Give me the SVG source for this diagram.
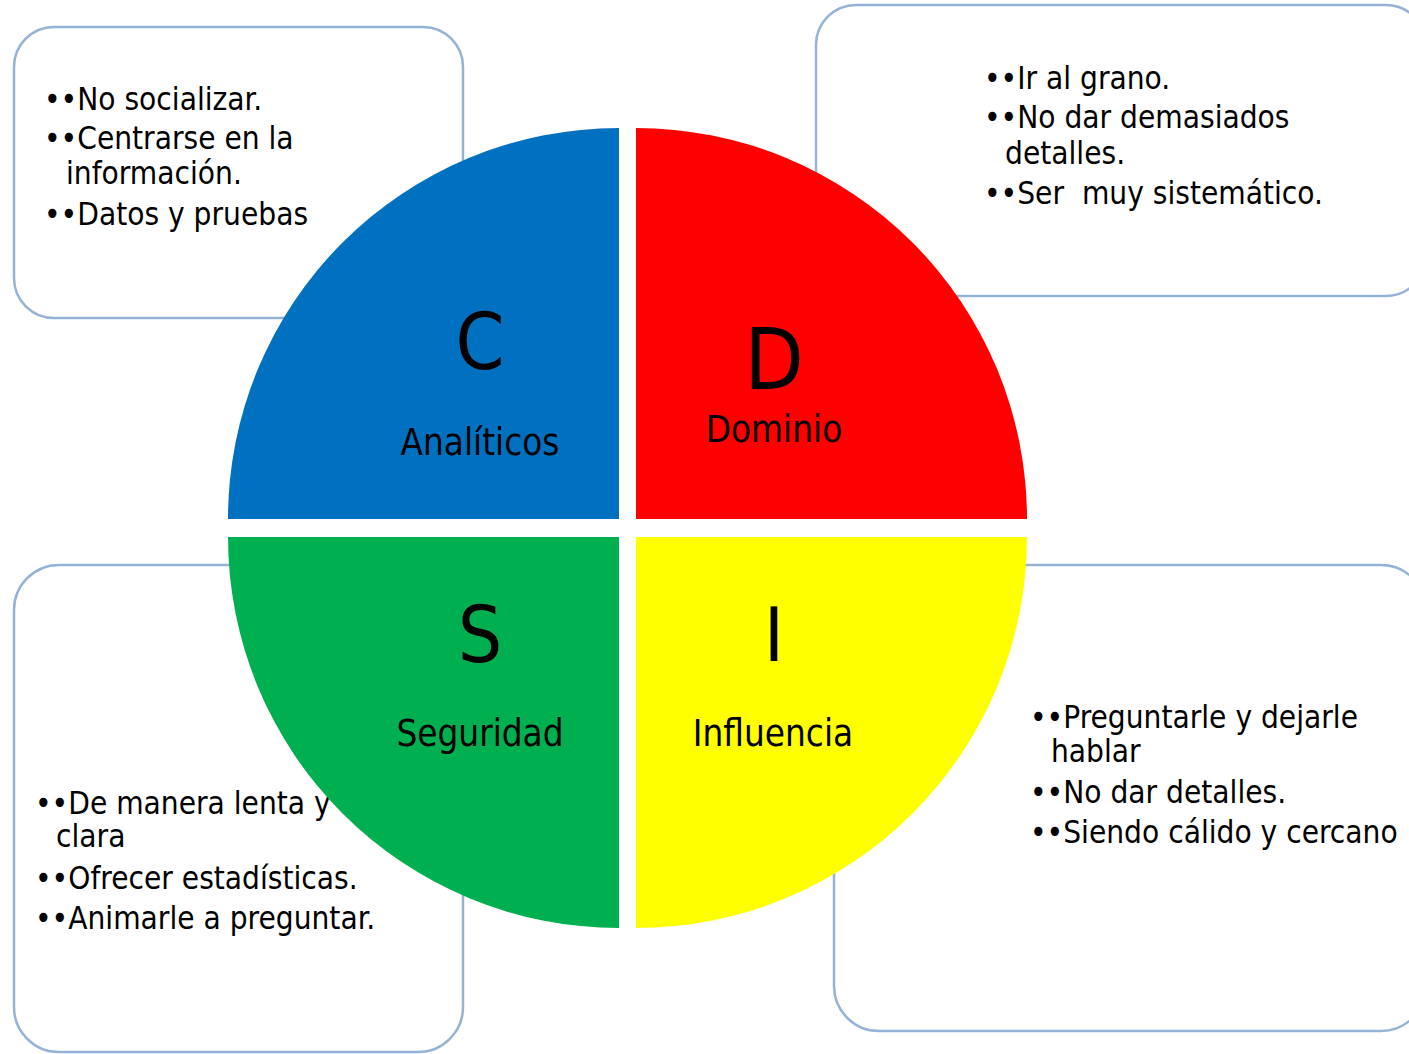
<svg xmlns="http://www.w3.org/2000/svg" width="1409" height="1054" viewBox="0 0 1409 1054">
<style>
.box{fill:#FFFFFF;stroke:#95B3D7;stroke-width:2.5}
.t{font-family:'DejaVu Sans Condensed','DejaVu Sans',sans-serif;font-size:31.3px;fill:#000000;white-space:pre}
.lbl{font-family:'DejaVu Sans Condensed','DejaVu Sans',sans-serif;font-size:36.5px;fill:#000000;text-anchor:middle}
.big{font-family:'DejaVu Sans Condensed','DejaVu Sans',sans-serif;font-size:78px;fill:#000000;text-anchor:middle}
</style>
<rect width="1409" height="1054" fill="#FFFFFF"/>
<g id="box-c">
<rect class="box" x="14" y="27" width="449" height="291" rx="40" ry="40"/>
<text class="t" x="44" y="110">••No socializar.</text>
<text class="t" x="44" y="149">••Centrarse en la</text>
<text class="t" x="66" y="184">información.</text>
<text class="t" x="44" y="225">••Datos y pruebas</text>
</g>
<g id="box-d">
<rect class="box" x="816" y="5" width="610" height="291" rx="40" ry="40"/>
<text class="t" x="984" y="89">••Ir al grano.</text>
<text class="t" x="984" y="128">••No dar demasiados</text>
<text class="t" x="1005" y="164">detalles.</text>
<text class="t" x="984" y="204" xml:space="preserve">••Ser  muy sistemático.</text>
</g>
<g id="box-s">
<rect class="box" x="14" y="565" width="449" height="487" rx="45" ry="45"/>
<text class="t" x="35" y="814">••De manera lenta y</text>
<text class="t" x="56" y="847">clara</text>
<text class="t" x="35" y="889">••Ofrecer estadísticas.</text>
<text class="t" x="35" y="929">••Animarle a preguntar.</text>
</g>
<g id="box-i">
<rect class="box" x="834" y="565" width="592" height="466" rx="45" ry="45"/>
<text class="t" x="1030" y="728">••Preguntarle y dejarle</text>
<text class="t" x="1051" y="762">hablar</text>
<text class="t" x="1030" y="803">••No dar detalles.</text>
<text class="t" x="1030" y="843">••Siendo cálido y cercano</text>
</g>
<g id="quad-c">
<path d="M619,519 L228,519 A391,391 0 0 1 619,128 Z" fill="#0070C0"/>
<text class="big" x="480" y="369">C</text>
<text class="lbl" x="480" y="455">Analíticos</text>
</g>
<g id="quad-d">
<path d="M636,519 L636,128 A391,391 0 0 1 1027,519 Z" fill="#FF0000"/>
<text class="big" x="774" y="389" style="font-size:86px">D</text>
<text class="lbl" x="774" y="442">Dominio</text>
</g>
<g id="quad-s">
<path d="M619,537 L619,928 A391,391 0 0 1 228,537 Z" fill="#00B050"/>
<text class="big" x="480" y="662">S</text>
<text class="lbl" x="480" y="746">Seguridad</text>
</g>
<g id="quad-i">
<path d="M636,537 L1027,537 A391,391 0 0 1 636,928 Z" fill="#FFFF00"/>
<text class="big" x="774" y="661" style="font-size:75px">I</text>
<text class="lbl" x="773" y="746">Influencia</text>
</g>
<g id="connectors"></g>
</svg>
